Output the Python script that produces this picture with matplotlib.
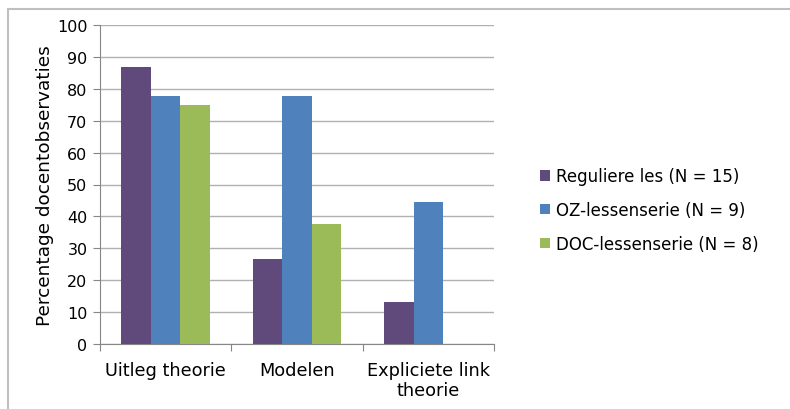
import matplotlib
matplotlib.use("Agg")
from matplotlib import pyplot as plt
from matplotlib.patches import Rectangle
import numpy as np

# categorieen en percentages per lessenserie
categorieen = ["Uitleg theorie", "Modelen", "Expliciete link\ntheorie"]
reguliere = [86.7, 26.7, 13.3]
oz = [77.8, 77.8, 44.4]
doc = [75.0, 37.5, 0.0]
labels = ["Reguliere les (N = 15)", "OZ-lessenserie (N = 9)", "DOC-lessenserie (N = 8)"]
kleuren = ["#604A7B", "#4F81BD", "#9BBB59"]

plt.rcParams["font.family"] = ["DejaVu Sans"]

fig = plt.figure(figsize=(7.9, 4.1), dpi=100)
ax = fig.add_axes([100 / 790, 1 - 345 / 410, 394 / 790, 319 / 410])

x = np.arange(len(categorieen))
w = 0.225
for i, reeks in enumerate([reguliere, oz, doc]):
    ax.bar(x + (i - 1) * w, reeks, w, color=kleuren[i], label=labels[i], zorder=3)

ax.set_xlim(-0.5, 2.5)
ax.set_ylim(0, 100)
ax.set_yticks(range(0, 101, 10))
ax.yaxis.grid(True, color="#B0B0B0", linewidth=1, zorder=0)
ax.set_xticks([-0.5, 0.5, 1.5, 2.5], minor=False)
ax.set_xticklabels([])
ax.set_xticks(x, minor=True)
ax.set_xticklabels(categorieen, minor=True, fontsize=12.8, linespacing=1.15)
ax.tick_params(axis="x", which="major", length=5, color="#868686")
ax.tick_params(axis="x", which="minor", length=0, pad=12)
ax.tick_params(axis="y", length=5, color="#868686", labelsize=11.5, pad=4)
for s in ["top", "right"]:
    ax.spines[s].set_visible(False)
for s in ["left", "bottom"]:
    ax.spines[s].set_color("#868686")
ax.set_ylabel("Percentage docentobservaties", fontsize=13.3)
ax.yaxis.set_label_coords(-46 / 394, 0.5)

ax.legend(loc="center left", bbox_to_anchor=(525 / 394 - 100 / 394, 0.42),
          frameon=False, fontsize=12, handlelength=0.6, handleheight=0.6,
          handletextpad=0.35, labelspacing=0.95)

# rand om de grafiek
fig.patches.append(Rectangle((7.5 / 790, -0.1), 2, (1 - 9.5 / 410) + 0.1,
                             transform=fig.transFigure, fill=False,
                             edgecolor="#BFBFBF", linewidth=1.5))

fig.savefig("out.png", dpi=100)
